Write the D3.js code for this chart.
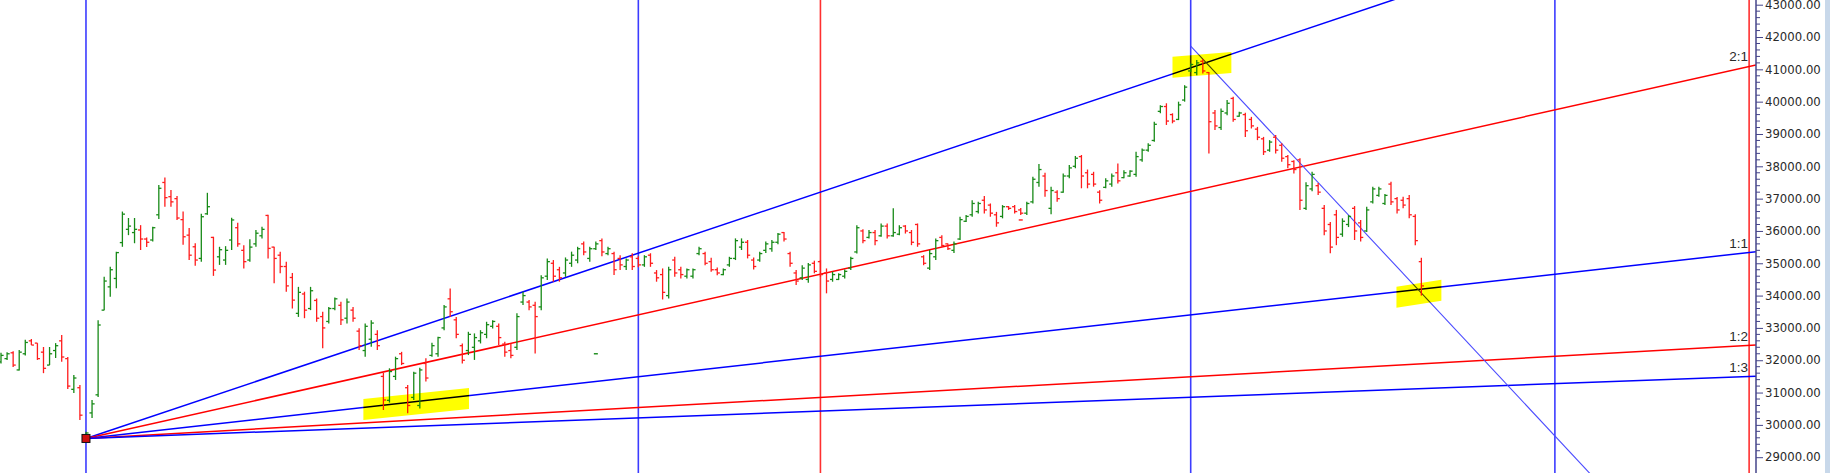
<!DOCTYPE html>
<html><head><meta charset="utf-8">
<script src="https://cdn.jsdelivr.net/npm/d3@7"></script>
<style>
html,body{margin:0;padding:0;background:#fff;overflow:hidden}
svg{display:block}
</style></head><body>
<svg id="c" width="1830" height="473"></svg>
<script>
// ---------------- DATA ----------------
const opens = [
31950,32050,32230,31700,32200,32600,32530,32250,31850,32300,
32600,32050,31100,31150,29620,30370,30930,33550,34270,34530,
35640,36050,35950,36030,35750,35720,36500,37500,37060,37000,
36350,35870,35510,35150,36530,35800,35200,35100,35720,36100,
35400,35100,35600,35850,36480,35500,35250,34900,34560,33450,
34050,33600,33850,33350,33200,33600,33700,33300,33550,32900,
32300,32650,32800,31500,30760,31500,32200,31150,30850,30600,
31900,32150,32200,33000,33900,33250,32450,32300,32400,32600,
32800,33050,33050,32500,32300,32400,33800,33800,33700,33650,
34600,35000,34800,34700,35000,35100,35600,35150,35450,35700,
35300,35300,35150,34900,35200,35150,34950,35250,34700,34650,
34000,35100,34800,34600,34600,35300,35300,35050,34800,34650,
34950,35150,35500,35650,35100,35100,35400,35450,35650,35950,
35300,34700,34550,34500,35000,35050,34700,34500,34500,34600,
34850,35350,36000,35800,35950,35850,36150,35850,35900,36150,
35950,36200,35200,34850,35200,35800,35600,35400,35750,36300,
36500,36600,36950,36800,36500,36450,36750,36750,36650,36550,
36900,37500,37700,36700,37200,37200,37700,38000,38300,37800,
37750,37200,37350,37450,37800,37650,37700,37750,38200,38500,
38800,39700,39850,39600,39450,40050,40950,40900,41250,40900,
39650,39200,39650,40100,39550,39600,39450,39150,38850,38500,
38900,38650,38300,38150,38200,36700,37300,37400,36700,36200,
36500,35900,36200,36700,36250,36000,36900,37100,36850,37450,
37000,36950,37000,36450,35050];
const highs = [
32230,32250,32280,32320,32630,32660,32530,32410,32410,32530,
32780,32100,31540,31230,29790,30770,33240,34580,34890,35360,
36600,36400,36400,36180,35800,36130,37420,37650,37270,37080,
36600,36090,35620,36530,37180,35820,35510,35530,36410,36250,
35560,35740,36030,36130,36500,35510,35360,35050,34700,34270,
34120,34270,33910,33500,33650,33940,33810,33910,33650,32990,
33140,33240,32930,31610,31750,32110,32260,31230,31640,31770,
32060,32540,32730,33710,34220,33340,32520,32880,32830,32930,
33190,33240,33140,32570,32520,33450,34120,33860,33810,34630,
35150,35100,34890,35180,35360,35510,35670,35510,35670,35770,
35510,35360,35250,35150,35310,35220,35250,35310,34790,34840,
34890,35200,34890,34840,34840,35510,35360,35170,34870,34840,
35200,35770,35770,35720,35180,35360,35670,35720,35940,35970,
35360,34790,34940,35010,35080,35100,34840,34740,34690,34810,
35200,36180,36050,36030,36030,36230,36230,36700,36180,36180,
36030,36230,35250,35410,35770,35870,35610,35670,36440,36490,
36950,36900,37080,36850,36590,36800,36770,36800,36710,36900,
37680,38070,37800,37370,37260,37780,38040,38320,38350,37900,
37830,37260,37630,37780,38090,37880,37880,38450,38550,38710,
39380,39890,39950,39640,40000,40510,41180,41290,41320,40920,
39740,39790,40050,40150,39690,39660,39530,39220,38910,38810,
38970,38710,38350,38190,38250,37510,37830,37480,36800,36280,
36650,36390,36490,36770,36340,36750,37370,37370,37140,37520,
37050,37060,37110,36520,35170];
const lows = [
31900,32010,31790,31680,32150,32470,32010,31600,31850,32070,
31950,31110,30985,30150,29590,30210,30860,33550,33965,34230,
35510,35870,35620,35410,35500,35670,36370,36750,36750,36340,
35570,35100,34920,35050,36500,34610,34950,34950,35410,35510,
34840,35050,35510,35770,35150,34380,34690,34120,33600,33340,
33300,33550,33190,32370,33140,33550,33090,33140,33190,32320,
32110,32420,32320,30460,30690,31390,31850,30360,30770,30510,
31340,32110,32110,32930,33340,32680,31900,32160,32010,32520,
32680,32980,32470,32110,32060,32320,33710,33550,32210,33550,
34480,34430,34430,34580,34890,35000,35250,35050,35410,35220,
35250,34640,34790,34790,34790,34880,34890,34890,34430,33880,
33910,34580,34530,34530,34530,35250,34940,34740,34630,34630,
34890,35100,35410,35150,34810,35050,35320,35360,35590,35670,
34890,34330,34480,34400,34690,34580,34070,34430,34480,34530,
34790,35300,35620,35770,35560,35820,35770,35820,35870,35920,
35560,35510,34940,34790,35100,35510,35410,35320,35720,36280,
36440,36540,36540,36440,36130,36390,36650,36540,36490,36490,
36850,37370,37060,36520,36900,37180,37630,37940,37320,37320,
37370,36850,37320,37370,37470,37630,37680,37680,38140,38450,
38760,39640,39280,39330,39430,40000,40920,40820,40870,38400,
39120,39120,39580,39380,39530,38910,39170,38810,38350,38450,
38400,38140,37940,37780,36650,36650,37230,37110,35870,35310,
35560,35820,36120,35720,35670,35970,36850,37060,36800,36800,
36540,36700,36390,35560,34000];
const closes = [
32150,32200,31850,32250,32550,32470,32050,31750,32200,32450,
32100,31200,31450,30300,29750,30650,33090,34450,34800,35330,
36520,36150,36050,35750,35650,36100,37320,37030,36900,36400,
35820,35250,35100,36440,36750,34790,35420,35400,36340,35600,
35050,35500,35930,36050,35460,35150,34900,34300,33860,34100,
33550,34150,33300,33000,33600,33900,33250,33800,33300,32450,
33050,33150,32450,30770,31650,32050,31900,30600,31600,31700,
31450,32450,32700,33650,33500,32800,32000,32800,32700,32850,
33100,33200,32700,32250,32150,33350,34000,33650,33350,34550,
35050,34600,34550,35100,35250,35450,35350,35450,35600,35350,
35450,34800,34950,35100,34900,34950,35200,35000,34550,34100,
34800,34700,34650,34800,34800,35450,35000,34800,34700,34800,
35150,35700,35650,35250,34900,35300,35600,35650,35900,35750,
35000,34450,34850,34950,34750,34650,34450,34650,34650,34750,
35150,36100,35700,35950,35700,36150,35850,35950,36100,36000,
35650,35600,35000,35300,35700,35550,35450,35600,36350,36450,
36850,36850,36650,36550,36250,36750,36700,36600,36550,36850,
37600,37900,37250,37250,37000,37700,37950,38250,37700,37450,
37450,36950,37550,37700,37550,37800,37850,38300,38500,38650,
39300,39850,39400,39400,39900,40450,41150,41200,40950,39380,
39250,39700,39950,39450,39650,39100,39250,38900,38450,38750,
38500,38250,38050,37900,36950,37400,37750,37200,36000,35500,
35800,36300,36450,36000,35800,36650,37300,37300,37100,36900,
36650,36800,36500,35700,34300];

const priceTicks = d3.range(29000, 43001, 1000);
const minorStep = 200;
const fanOrigin = {i: 14, v: 29580};
const fanUnit = 21;                       // points per bar for the 1:1 line
const fanRatios = [3, 2, 1, 0.5, 1/3];
const fanLabels = ["3:1", "2:1", "1:1", "1:2", "1:3"];
const cycleBlue = [14, 105, 196, 256];
const cycleRed = [135, 288];
const trendLine = [{i: 196, v: 41720}, {i: 262, v: 28450}];
const highlights = [
  [{i: 59.7, v: 30475}, {i: 77.1, v: 30816}],
  [{i: 193.0, v: 41066}, {i: 202.7, v: 41211}],
  [{i: 229.9, v: 33947}, {i: 237.3, v: 34163}]
];
const strayTicks = [{i: 98, v: 32200, up: true}, {i: 168, v: 36340, up: false}];

// ---------------- STYLE ----------------
const W = 1830, H = 473, axisX = 1756;
const GREEN = "#178a17", RED = "#ff1c1c";
const fanColors = ["#0000ff", "#ff0000", "#0000ff", "#ff0000", "#0000ff"];

const svg = d3.select("#c");
const x = d3.scaleLinear().domain([0, 289.1]).range([1, axisX - 0.2]);
const y = d3.scaleLinear().domain([29000, 43000]).range([457.2, 4.7]);
const iMax = x.invert(axisX);

svg.append("defs").append("clipPath").attr("id", "plot")
  .append("rect").attr("x", 0).attr("y", 0).attr("width", axisX).attr("height", H);

const plot = svg.append("g").attr("clip-path", "url(#plot)");

// cycle verticals
plot.selectAll("line.cb").data(cycleBlue).join("line")
  .attr("x1", d => x(d)).attr("x2", d => x(d)).attr("y1", 0).attr("y2", H)
  .attr("stroke", "#3c3cff").attr("stroke-width", 1.6);
plot.selectAll("line.cr").data(cycleRed).join("line")
  .attr("x1", d => x(d)).attr("x2", d => x(d)).attr("y1", 0).attr("y2", H)
  .attr("stroke", "#ff3030").attr("stroke-width", 1.6);

// fan lines
fanRatios.forEach((r, k) => {
  const endV = fanOrigin.v + r * fanUnit * (iMax - fanOrigin.i);
  plot.append("line")
    .attr("x1", x(fanOrigin.i)).attr("y1", y(fanOrigin.v))
    .attr("x2", x(iMax)).attr("y2", y(endV))
    .attr("stroke", fanColors[k]).attr("stroke-width", 1.5);
});

// down trend line
plot.append("line")
  .attr("x1", x(trendLine[0].i)).attr("y1", y(trendLine[0].v))
  .attr("x2", x(trendLine[1].i)).attr("y2", y(trendLine[1].v))
  .attr("stroke", "#4a4aff").attr("stroke-width", 1.1);

// OHLC bars
const bars = plot.append("g");
const tk = 2.6;
opens.forEach((o, i) => {
  const c = closes[i];
  const col = c >= o ? GREEN : RED;
  const xi = x(i);
  const g = bars.append("g").attr("stroke", col).attr("stroke-width", 1.3);
  g.append("line").attr("x1", xi).attr("x2", xi).attr("y1", y(highs[i])).attr("y2", y(lows[i]));
  g.append("line").attr("x1", xi - tk).attr("x2", xi).attr("y1", y(o)).attr("y2", y(o));
  g.append("line").attr("x1", xi).attr("x2", xi + tk).attr("y1", y(c)).attr("y2", y(c));
});

// stray ticks
plot.selectAll("line.st").data(strayTicks).join("line")
  .attr("x1", d => x(d.i) - 2).attr("x2", d => x(d.i) + 2)
  .attr("y1", d => y(d.v)).attr("y2", d => y(d.v))
  .attr("stroke", d => d.up ? GREEN : RED).attr("stroke-width", 1.4);

// origin square
plot.append("rect")
  .attr("x", x(fanOrigin.i) - 4).attr("y", y(fanOrigin.v) - 4)
  .attr("width", 8).attr("height", 8)
  .attr("fill", "#d01010").attr("stroke", "#111").attr("stroke-width", 1);

// highlighter strokes (multiply blend)
const half = 10.5;
highlights.forEach(h => {
  const x0 = x(h[0].i), y0 = y(h[0].v), x1 = x(h[1].i), y1 = y(h[1].v);
  plot.append("polygon")
    .attr("points", [[x0, y0 - half], [x1, y1 - half], [x1, y1 + half], [x0, y0 + half]].map(p => p.join(",")).join(" "))
    .attr("fill", "#ffff00")
    .style("mix-blend-mode", "multiply");
});

// fan labels
fanRatios.forEach((r, k) => {
  const endV = fanOrigin.v + r * fanUnit * (iMax - fanOrigin.i);
  const yy = y(endV);
  if (yy < 10) return;
  svg.append("text").attr("x", 1748).attr("y", yy - 4)
    .attr("text-anchor", "end")
    .attr("font-family", "'Liberation Sans', Arial, sans-serif")
    .attr("font-size", 13.5).attr("fill", "#2a2a2a")
    .text(fanLabels[k]);
});

// right strip
svg.append("rect").attr("x", 1825).attr("y", 0).attr("width", 5).attr("height", H).attr("fill", "#c8d8ea");

// axis
const axisG = svg.append("g").attr("transform", `translate(${axisX},0)`);
const minor = d3.range(29000, 43200, minorStep).filter(v => v % 1000 !== 0);
axisG.selectAll("line.mn").data(minor).join("line")
  .attr("x1", 0).attr("x2", 4).attr("y1", d => y(d)).attr("y2", d => y(d))
  .attr("stroke", "#44448a").attr("stroke-width", 1);
const ax = d3.axisRight(y).tickValues(priceTicks).tickFormat(d3.format(".2f")).tickSize(7).tickPadding(2);
axisG.call(ax);
axisG.select(".domain").remove();
axisG.selectAll(".tick line").attr("stroke", "#44448a");
axisG.selectAll(".tick text")
  .attr("font-family", "'DejaVu Sans', sans-serif").attr("font-size", 11.7).attr("fill", "#2a2a2a");
svg.append("line").attr("x1", axisX).attr("x2", axisX).attr("y1", 0).attr("y2", H)
  .attr("stroke", "#44448a").attr("stroke-width", 1.5);
</script>
</body></html>
